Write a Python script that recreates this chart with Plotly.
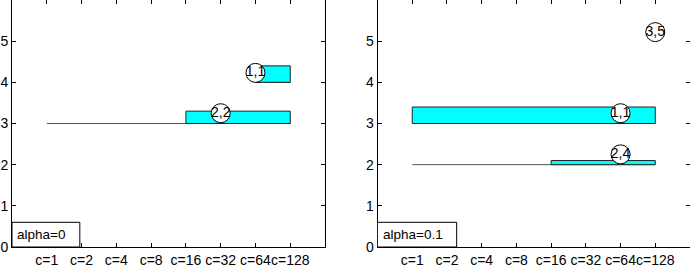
import plotly.graph_objects as go

categories = ["c=1", "c=2", "c=4", "c=8", "c=16", "c=32", "c=64", "c=128"]
y_ticks = [0, 1, 2, 3, 4, 5]

# left panel (alpha=0)
left_labels = ["2,2", "1,1"]
left_base = [3, 4]
left_line_start = ["c=1", "c=64"]
left_bar_start = ["c=16", "c=64"]
left_bar_end = ["c=128", "c=128"]
left_height = [0.3, 0.4]
left_circle_x = ["c=32", "c=64"]
left_circle_y = [3.25, 4.23]

# right panel (alpha=0.1)
right_labels = ["1,1", "2,4", "3,5"]
right_base = [3, 2, None]
right_line_start = ["c=1", "c=1", None]
right_bar_start = ["c=1", "c=16", None]
right_bar_end = ["c=128", "c=128", None]
right_height = [0.4, 0.1, None]
right_circle_x = ["c=64", "c=64", "c=128"]
right_circle_y = [3.25, 2.25, 5.22]

legend_texts = ["alpha=0", "alpha=0.1"]

FONT = "Liberation Sans, Arial, sans-serif"
pos = {c: i + 1 for i, c in enumerate(categories)}

fig = go.Figure()

def add_panel(xa, ya, labels, base, ls, bs, be, h, cx, cy):
    for i in range(len(labels)):
        if base[i] is None:
            continue
        # thin line
        fig.add_trace(go.Scatter(x=[pos[ls[i]], pos[be[i]]], y=[base[i], base[i]],
                                 mode="lines", line=dict(color="#555555", width=1),
                                 xaxis=xa, yaxis=ya, showlegend=False, hoverinfo="skip"))
        x0, x1 = pos[bs[i]], pos[be[i]]
        y0, y1 = base[i], base[i] + h[i]
        fig.add_trace(go.Scatter(x=[x0, x1, x1, x0, x0], y=[y0, y0, y1, y1, y0],
                                 mode="lines", fill="toself", fillcolor="#00FFFF",
                                 line=dict(color="#222222", width=1),
                                 xaxis=xa, yaxis=ya, showlegend=False, hoverinfo="skip"))
    fig.add_trace(go.Scatter(x=[pos[c] for c in cx], y=cy, mode="markers+text",
                             text=labels, textposition="middle center",
                             textfont=dict(family=FONT, size=14, color="black"),
                             marker=dict(size=19, color="white", line=dict(color="black", width=1)),
                             xaxis=xa, yaxis=ya, showlegend=False, hoverinfo="skip"))

add_panel("x", "y", left_labels, left_base, left_line_start, left_bar_start,
          left_bar_end, left_height, left_circle_x, left_circle_y)
add_panel("x2", "y2", right_labels, right_base, right_line_start, right_bar_start,
          right_bar_end, right_height, right_circle_x, right_circle_y)

axis_common = dict(showline=True, linecolor="black", linewidth=1, mirror="ticks",
                   ticks="inside", ticklen=4, tickcolor="black", showgrid=False,
                   zeroline=False, automargin=False,
                   tickfont=dict(family=FONT, size=14, color="black"))

fig.update_layout(
    width=690, height=266,
    margin=dict(l=12, r=0, t=0, b=19),
    plot_bgcolor="white", paper_bgcolor="white",
    xaxis=dict(domain=[0, 0.4617], range=[0, 9], tickvals=list(range(1, 9)),
               ticktext=categories, anchor="y", tickangle=0, ticklabelstandoff=0,
               **axis_common),
    yaxis=dict(domain=[0, 1], range=[0, 6], tickvals=y_ticks, anchor="x", **axis_common),
    xaxis2=dict(domain=[0.5391, 1], range=[0, 9], tickvals=list(range(1, 9)),
                ticktext=categories, anchor="y2", tickangle=0, ticklabelstandoff=0,
                **axis_common),
    yaxis2=dict(domain=[0, 1], range=[0, 6], tickvals=y_ticks, anchor="x2", **axis_common),
)

for xr, yr, w, t in [("x", "y", 1.95, legend_texts[0]), ("x2", "y2", 2.28, legend_texts[1])]:
    fig.add_shape(type="rect", xref=xr, yref=yr, x0=0, x1=w, y0=0, y1=0.6,
                  line=dict(color="black", width=1), fillcolor="white")
    fig.add_annotation(xref=xr, yref=yr, x=0.1, y=0.3, text=t, showarrow=False,
                       xanchor="left", yanchor="middle",
                       font=dict(family=FONT, size=13.5, color="black"))

fig.write_html("out.html", post_script="document.body.style.margin='0';",
               config={"displayModeBar": False})
